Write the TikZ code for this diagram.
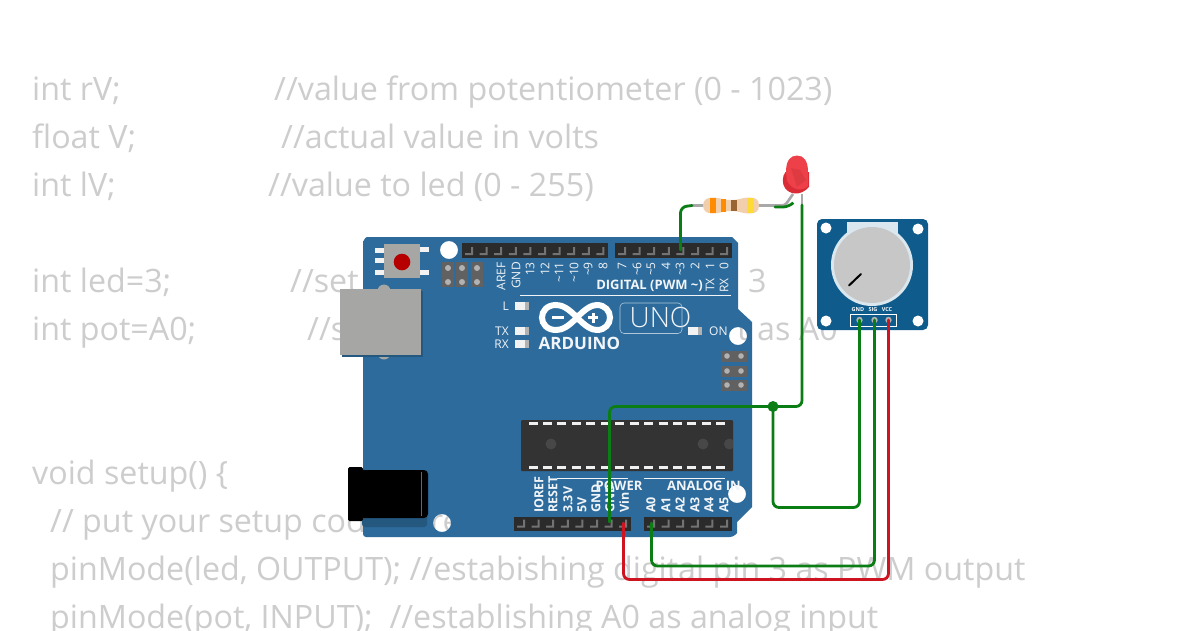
\documentclass[tikz,border=0pt]{standalone}
\usepackage{fontspec}
\setmainfont{Open Sans}
\newfontfamily\unofont{Open Sans Light}
\definecolor{bgtext}{HTML}{CDCDCD}
\definecolor{boardblue}{HTML}{2C6B9C}
\definecolor{boardshade}{HTML}{25587F}
\definecolor{potblue}{HTML}{0F5C8C}
\definecolor{wiregreen}{HTML}{0A7D14}
\definecolor{wirered}{HTML}{CE1420}
\definecolor{hdrdark}{HTML}{2B2B2B}
\definecolor{chipdark}{HTML}{333333}
\definecolor{usbgray}{HTML}{A6A6A4}
\definecolor{leadgray}{HTML}{A8A8A8}
\definecolor{silk}{HTML}{F2F5F8}
\definecolor{ledface}{HTML}{EE4049}
\definecolor{ledrim}{HTML}{D92C36}
\definecolor{ledfacet}{HTML}{DE3A42}
\tikzset{
  codetext/.style={anchor=base west,inner sep=0pt,text=bgtext,font=\fontsize{32.23}{33}\selectfont},
  silkdown/.style={rotate=90,anchor=west,inner sep=0pt,text=silk,font=\bfseries\fontsize{12.5}{13}\selectfont},
  silkup/.style={rotate=90,anchor=east,inner sep=0pt,text=silk,font=\fontsize{12}{13}\selectfont},
  silktext/.style={inner sep=0pt,text=silk,font=\fontsize{12}{13}\selectfont},
  silkbold/.style={inner sep=0pt,text=silk,font=\bfseries\fontsize{13}{14}\selectfont},
  wire/.style={line width=2.8pt,rounded corners=6pt,line cap=round},
  greenwire/.style={wire,draw=wiregreen},
  redwire/.style={wire,draw=wirered},
  lead/.style={line width=2.6pt,draw=leadgray},
  icsp/.style={fill=black!62},
  icspdot/.style={fill=black!30},
  potlabel/.style={inner sep=0pt,text=white,font=\bfseries\fontsize{5.5}{6}\selectfont}
}
\newcommand{\hdrstrip}[4]{%
  \fill[hdrdark] (#1,#2) rectangle ++({14.6*#3},#4);
  \foreach \k in {1,...,#3}{
    \fill[black!55] ({#1+14.6*(\k-1)+3},{#2+#4-3}) -- ++(8,0) -- ++(0,-8) -- ++(-2,0) -- ++(0,6) -- ++(-6,0) -- cycle;
  }}
\begin{document}
\begin{tikzpicture}[x=1pt,y=-1pt]
\useasboundingbox (0,0) rectangle (1200,630);
\fill[white] (0,0) rectangle (1200,630);
% code behind the board
\node[codetext] (c1) at (32,100) {int rV;};
\node[codetext] (c1b) at (274,100) {//value from potentiometer (0 - 1023)};
\node[codetext] (c2) at (32,148) {float V;};
\node[codetext] (c2b) at (281,148) {//actual value in volts};
\node[codetext] (c3) at (32,196) {int lV;};
\node[codetext] (c3b) at (268,196) {//value to led (0 - 255)};
\node[codetext] (c4) at (32,292) {int led=3;};
\node[codetext] (c4b) at (290,292) {//set};
\node[codetext] (c4c) at (748,292) {3};
\node[codetext] (c5) at (32,340) {int pot=A0;};
\node[codetext] (c5b) at (307,340) {//s};
\node[codetext] (c5t) at (737,340) {t};
\node[codetext] (c5c) at (757,340) {as A0};
\node[codetext] (c6) at (32,484) {void setup() \{};
\node[codetext] (c7) at (50,532) {// put your setup code here, to run once:};
\node[codetext] (c8) at (50,580) {pinMode(led, OUTPUT); //estabishing digital pin 3 as PWM output};
\node[codetext] (c9) at (50,628) {pinMode(pot, INPUT);\ \ //establishing A0 as analog input};
% board with see-through mounting holes
\fill[boardblue,even odd rule]
  (367,237) -- (732,237) -- (738,243) -- (738,309) -- (752,322) -- (752,507) -- (737,522) -- (737,533) [rounded corners=3pt] -- (733,537) -- (363,537) [sharp corners] -- (363,241) to[out=-90,in=180] (367,237) -- cycle
  (449,250) circle[radius=9]
  (738,336) circle[radius=9]
  (737,494) circle[radius=9]
  (442,523) circle[radius=9];
% reset
\foreach \yy in {250,260,272}{\fill[white!90!gray] (375,{\yy-2.5}) rectangle (385,{\yy+2.5});}
\foreach \yy in {249,272}{\fill[white!90!gray] (419,{\yy-2.5}) rectangle (429,{\yy+2.5});}
\fill[usbgray] (384,244) rectangle (420,278);
\fill[black!5!red!75!black] (402,262) circle[radius=8.3];
% ICSP top
\foreach \xx in {448,462,477}{
  \fill[icsp] ({\xx-6},262) rectangle ({\xx+6},287);
  \fill[icspdot] (\xx,268) circle[radius=3];
  \fill[icspdot] (\xx,282) circle[radius=3];}
% ICSP right
\foreach \yy in {356,371,385}{
  \fill[icsp] (721,{\yy-5.5}) rectangle (747,{\yy+5.5});
  \fill[icspdot] (727,\yy) circle[radius=2.8];
  \fill[icspdot] (741,\yy) circle[radius=2.8];}
% headers
\hdrstrip{462}{243}{10}{15}
\hdrstrip{615}{243}{8}{15}
\hdrstrip{514}{516.5}{8}{14}
\hdrstrip{644}{516.5}{6}{14}
% USB
\fill[usbgray] (384,291) circle[radius=6.5];
\fill[usbgray] (384,353) circle[radius=6.5];
\fill[boardshade] (342,291) rectangle (423,357);
\fill[usbgray] (340,289) rectangle (421,355);
% power jack
\fill[boardshade,rounded corners=3pt] (362,478) rectangle (427,527);
\fill[black,rounded corners=4pt] (360,470) rectangle (428,518);
\fill[black,rounded corners=1.5pt] (348,467) rectangle (363,521);
\draw[black!60,line width=.5pt] (421,472) -- (421,516);
% chip
\fill[chipdark,rounded corners=1pt] (521,420) rectangle (733,471);
\foreach \k in {0,...,13}{
  \fill[white!88!gray] ({533+14.45*\k-4.5},421.8) rectangle ({533+14.45*\k+4.5},424.8);
  \fill[white!88!gray] ({533+14.45*\k-4.5},465.8) rectangle ({533+14.45*\k+4.5},468.8);}
\fill[black!72] (551,444) circle[radius=5.5];
\fill[black!72] (703,444) circle[radius=5.5];
\begin{scope}
\clip (721,430) rectangle (733,460);
\fill[black!72] (729.5,444) circle[radius=5.5];
\end{scope}
% top labels
\foreach \xx/\tt in {501/AREF,516/GND,530/13,545/12,559/\textasciitilde 11,574/\textasciitilde 10,588/\textasciitilde 9,603/8,622/7,637/\textasciitilde 6,651/\textasciitilde 5,666/4,680/\textasciitilde 3,695/2,710/1,724/0}{
  \node[silkup] (top\xx) at (\xx,262) {\tt};}
\node[silkup] (txl) at (710,278) {TX};
\node[silkup] (rxl) at (724,278) {RX};
\node[silkbold,anchor=east] (digital) at (703,285.5) {DIGITAL (PWM \textasciitilde)};
\fill[silk] (520,294.5) rectangle (731,295.5);
% LEDs
\node[silktext,anchor=east] (ll) at (509,306) {L};
\node[silktext,anchor=east] (tx) at (509,331) {TX};
\node[silktext,anchor=east] (rx) at (509,344) {RX};
\foreach \xx/\yy in {522/306,522/331,522/344,695/331}{
  \fill[white!90!gray] ({\xx-7},{\yy-3.7}) rectangle ({\xx+7},{\yy+3.7});
  \fill[black!30] ({\xx+2},{\yy-3.7}) rectangle ({\xx+7},{\yy+3.7});
  \fill[white!90!gray] ({\xx-4},{\yy-3.7}) rectangle ({\xx+3},{\yy+3.7});}
\node[silktext,anchor=west] (onl) at (709,331) {ON};
% logo
\draw[white,line width=6pt] (577,317.5) .. controls (568,308) and (562,305) .. (556,305) .. controls (547,305) and (542,311) .. (542,317.5) .. controls (542,324) and (547,330) .. (556,330) .. controls (562,330) and (568,327) .. (577,317.5) .. controls (586,308) and (592,305) .. (597,305) .. controls (605,305) and (610,311) .. (610,317.5) .. controls (610,324) and (605,330) .. (597,330) .. controls (592,330) and (586,327) .. (577,317.5) -- cycle;
\fill[white] (552,316) rectangle (564,319);
\fill[white] (588,316) rectangle (598,319);
\fill[white] (591.5,312.5) rectangle (594.5,322.5);
\node[silkbold,anchor=west,font=\bfseries\fontsize{17}{18}\selectfont] (ard) at (538.5,343.5) {ARDUINO};
\node[inner sep=0pt,text=silk,font=\unofont\fontsize{28}{28}\selectfont] (uno) at (660.5,317) {UNO};
\draw[white!62!boardblue,line width=.6pt,rounded corners=4pt] (620,303) rectangle (682,333.5);
% bottom labels
\foreach \xx/\tt in {539/IOREF,553/RESET,568/3.3V,582/5V,596/GND,610/GND,624/Vin,651/A0,666/A1,680/A2,695/A3,709/A4,724/A5}{
  \node[silkdown] (bot\xx) at (\xx,513) {\tt};}
\node[silkbold] (power) at (619,486) {POWER};
\node[silkbold] (analog) at (704,486) {ANALOG IN};
\fill[silk] (557,478) rectangle (628,478.8);
\fill[silk] (644,478) rectangle (725,478.8);
% potentiometer module
\fill[potblue,rounded corners=5pt] (817,219) rectangle (928,330);
\foreach \xx/\yy in {826/228,918/229,826/321,918/321}{\fill[white] (\xx,\yy) circle[radius=5.5];}
\fill[white!85!potblue] (847,222) rectangle (898,240);
\fill[white!85!potblue] (872,265) circle[radius=41];
\fill[black!22] (872,265) circle[radius=38];
\draw[black,line width=2pt,line cap=round] (849,285.5) -- (861,274);
\node[potlabel] (pg) at (858,310) {GND};
\node[potlabel] (ps) at (873,310) {SIG};
\node[potlabel] (pv) at (887,310) {VCC};
\draw[white,line width=1pt] (850.5,314) rectangle (896,326);
\coordinate (pgnd) at (859.5,320);
\coordinate (psig) at (874.5,320);
\coordinate (pvcc) at (888.5,320);
\foreach \pp in {pgnd,psig,pvcc}{\fill[black!30] (\pp) circle[radius=3.2];}
% resistor
\coordinate (rleft) at (692,205.5);
\coordinate (rright) at (775,205.5);
\draw[lead] (rleft) -- (rright);
\fill[black!8!orange!25!white!85!brown] (703,205.5) .. controls (703,199) and (708,197.5) .. (713,197.5) .. controls (720,197.5) and (722,200) .. (731,200) .. controls (740,200) and (742,197.5) .. (749,197.5) .. controls (755,197.5) and (759,199) .. (759,205.5) .. controls (759,212) and (755,213.5) .. (749,213.5) .. controls (742,213.5) and (740,211) .. (731,211) .. controls (722,211) and (720,213.5) .. (713,213.5) .. controls (708,213.5) and (703,212) .. (703,205.5) -- cycle;
\fill[orange!90!yellow] (709.5,198) rectangle (715.5,213);
\fill[orange!90!yellow] (720.5,199) rectangle (726,212);
\fill[brown!80!black] (731,200) rectangle (736.5,211);
\fill[yellow!70!orange!80!white] (747,198) rectangle (754,213);
% LED
\coordinate (anode) at (793,194);
\coordinate (cathode) at (802,194);
\draw[lead,rounded corners=3pt] (rright) -- (785,205.5) -- (anode);
\draw[lead] (cathode) -- (802,205);
\fill[ledrim] (785.5,172) .. controls (782,176) and (782,184) .. (785,188) .. controls (789,194) and (800,197) .. (809,187) -- (809,172) -- cycle;
\fill[ledface] (786,172) .. controls (786,161) and (790,155.5) .. (797,155.5) .. controls (804,155.5) and (808,161) .. (808,172) -- (808,186) .. controls (802,192) and (792,190) .. (787,181) -- cycle;
\fill[ledfacet] (791,168) -- (800,170) -- (806,180) -- (797,187) -- cycle;
% wires
\coordinate (d3) at (680.5,250);
\coordinate (gndp) at (609.5,522);
\coordinate (vinp) at (623.5,523);
\coordinate (a0p) at (651.5,523);
\coordinate (junction) at (773,406.5);
\draw[greenwire] (d3) -- (680.5,207) -- (rleft);
\draw[greenwire] (775,207) -- (789,207) -- (793,203);
\draw[greenwire] (802,205) -- (802,406.5) -- (609.5,406.5) -- (gndp);
\draw[greenwire] (junction) -- (773,507.5) -- (859.5,507.5) -- (pgnd);
\draw[greenwire] (psig) -- (874.5,566) -- (651.5,566) -- (a0p);
\draw[redwire] (pvcc) -- (888.5,579.5) -- (623.5,579.5) -- (vinp);
\fill[wiregreen] (junction) circle[radius=5.5];
\end{tikzpicture}
\end{document}
